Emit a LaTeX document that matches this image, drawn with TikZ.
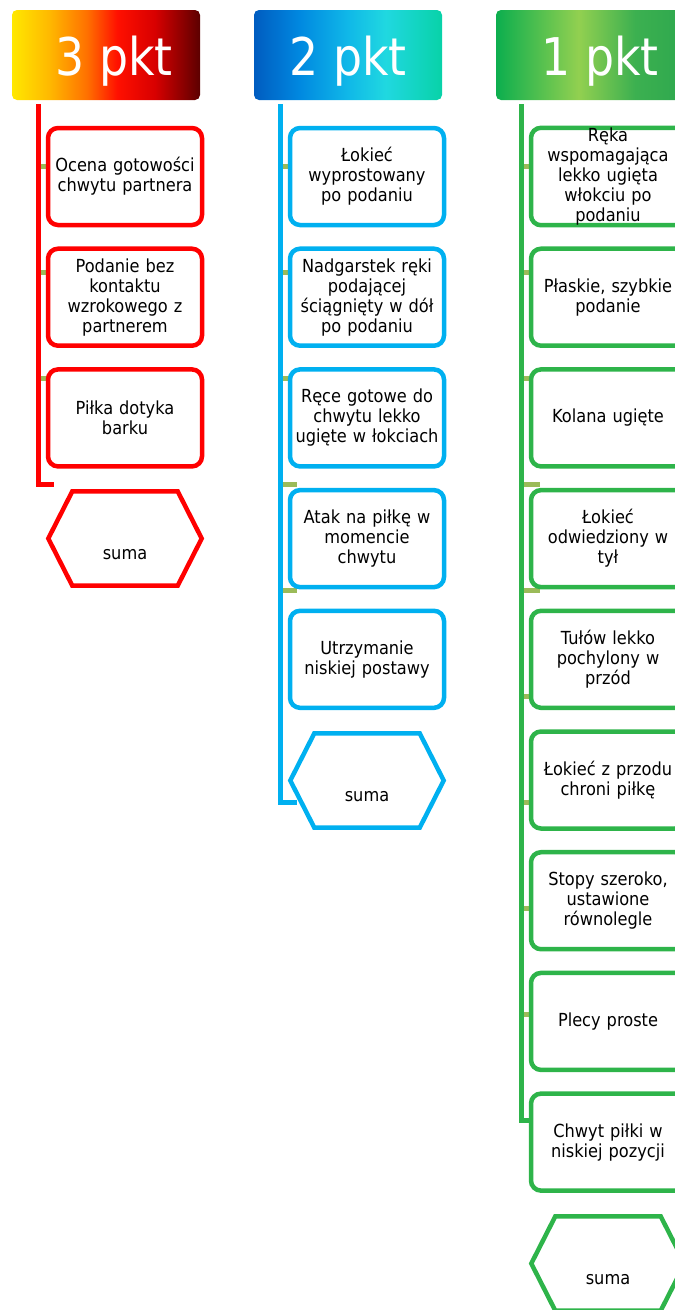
\documentclass[tikz,border=0pt]{standalone}
\usepackage{fontspec}
\setmainfont{DejaVu Sans}[FakeStretch=0.9]
\newfontfamily\headfont{DejaVu Sans}[FakeStretch=0.88]
\usepackage{tikz}

\definecolor{kred}{RGB}{255,0,0}
\definecolor{kblue}{RGB}{0,176,240}
\definecolor{kgreen}{RGB}{46,180,74}
\definecolor{kolive}{RGB}{155,187,89}
% header gradients
\definecolor{ra}{RGB}{255,232,0}
\definecolor{rb}{RGB}{255,184,0}
\definecolor{rc}{RGB}{255,112,0}
\definecolor{rd}{RGB}{255,16,0}
\definecolor{re}{RGB}{216,0,0}
\definecolor{rf}{RGB}{92,0,0}
\definecolor{ba}{RGB}{0,92,192}
\definecolor{bb}{RGB}{0,136,224}
\definecolor{bc}{RGB}{16,184,232}
\definecolor{bd}{RGB}{32,216,224}
\definecolor{be}{RGB}{8,210,168}
\definecolor{ga}{RGB}{12,174,78}
\definecolor{gb}{RGB}{146,208,80}
\definecolor{gc}{RGB}{60,176,80}
\definecolor{gd}{RGB}{46,168,78}
\pgfdeclarehorizontalshading{redhead}{100bp}{color(0bp)=(ra); color(25bp)=(ra); color(35bp)=(rb); color(45bp)=(rc); color(53bp)=(rd); color(63bp)=(re); color(75bp)=(rf); color(100bp)=(rf)}
\pgfdeclarehorizontalshading{bluehead}{100bp}{color(0bp)=(ba); color(25bp)=(ba); color(37bp)=(bb); color(50bp)=(bc); color(60bp)=(bd); color(75bp)=(be); color(100bp)=(be)}
\pgfdeclarehorizontalshading{greenhead}{100bp}{color(0bp)=(ga); color(25bp)=(ga); color(47bp)=(gb); color(62bp)=(gc); color(75bp)=(gd); color(100bp)=(gd)}

\begin{document}
\begin{tikzpicture}[x=1pt, y=-1pt,
    head/.style={rounded corners=5pt, minimum width=188pt, minimum height=90pt, inner sep=0pt,
      text=white, font=\headfont\fontsize{52}{52}\selectfont, text height=40pt, text depth=0pt},
    spine/.style={line width=5pt},
    tick/.style={kolive, line width=5pt},
    box/.style={rounded corners=10pt, line width=4.5pt, fill=white, minimum width=154pt,
      minimum height=97pt, text width=150pt, align=center, inner sep=0pt,
      font=\fontsize{18}{20}\selectfont},
    sum/.style={minimum width=153pt, minimum height=94pt, inner sep=0pt,
      text height=42pt, text depth=0pt, font=\fontsize{18}{20}\selectfont},
    hexline/.style={line width=4.5pt}]
  \useasboundingbox (0,0) rectangle (675,1310);
  \clip (0,0) rectangle (675,1310);
  % Column headers
  \node[head, shade, shading=redhead] (rhead) at (106,55) {\hspace{16pt}3 pkt};
  \node[head, shade, shading=bluehead] (bhead) at (348,55) {2 pkt};
  \node[head, shade, shading=greenhead] (ghead) at (590,55) {\hspace{20pt}1 pkt};
  % Small ticks on the spines
  \foreach \k in {0,...,2} \draw[tick] (38,{166+106*\k}) -- ++(16,0);
  \foreach \k in {0,...,4} \draw[tick] (280,{166+106*\k}) -- ++(17,0);
  \foreach \k in {0,...,8} \draw[tick] (521,{166+106*\k}) -- ++(19,0);
  % Spines
  \coordinate (rtop) at (38,104);  \coordinate (rend) at (54,484);
  \coordinate (btop) at (280,104); \coordinate (bend) at (297,802);
  \coordinate (gtop) at (521,104); \coordinate (gend) at (538,1120);
  \draw[spine, kred] (rtop) |- (rend);
  \draw[spine, kblue] (btop) |- (bend);
  \draw[spine, kgreen] (gtop) |- (gend);
  % 3 pkt
  \foreach \t [count=\i] in {{Ocena gotowości\\chwytu partnera},
      {Podanie bez\\kontaktu\\wzrokowego z\\partnerem}, {Piłka dotyka\\barku}}
    \node[box, draw=kred] (r\i) at (125,{176.5+120.7*(\i-1)}) {\t};
  % 2 pkt
  \foreach \t [count=\i] in {{Łokieć\\wyprostowany\\po podaniu},
      {Nadgarstek ręki\\podającej\\ściągnięty w dół\\po podaniu},
      {Ręce gotowe do\\chwytu lekko\\ugięte w łokciach},
      {Atak na piłkę w\\momencie\\chwytu}, {Utrzymanie\\niskiej postawy}}
    \node[box, draw=kblue] (b\i) at (367,{176.5+120.7*(\i-1)}) {\t};
  % 1 pkt
  \foreach \t [count=\i] in {{Ręka\\wspomagająca\\lekko ugięta\\włokciu po\\podaniu},
      {Płaskie, szybkie\\podanie}, {Kolana ugięte}, {Łokieć\\odwiedziony w\\tył},
      {Tułów lekko\\pochylony w\\przód}, {Łokieć z przodu\\chroni piłkę},
      {Stopy szeroko,\\ustawione\\równolegle}, {Plecy proste},
      {Chwyt piłki w\\niskiej pozycji}}
    \node[box, draw=kgreen] (g\i) at (608,{176.5+120.7*(\i-1)}) {\t};
  % Totals
  \node[sum] (rsum) at (125,538.5) {suma};
  \node[sum] (bsum) at (367,780.5) {suma};
  \node[sum] (gsum) at (608,1263.5) {suma};
  \foreach \n/\c in {rsum/kred, bsum/kblue, gsum/kgreen}
    \draw[hexline, \c] (\n.west) -- ([xshift=24pt]\n.north west) -- ([xshift=-24pt]\n.north east)
      -- (\n.east) -- ([xshift=-24pt]\n.south east) -- ([xshift=24pt]\n.south west) -- cycle;
\end{tikzpicture}
\end{document}
